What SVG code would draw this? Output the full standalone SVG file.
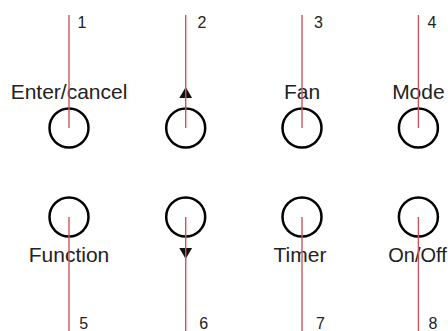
<svg xmlns="http://www.w3.org/2000/svg" width="448" height="331" viewBox="0 0 448 331">
<style>
.btn{fill:none;stroke:#000;stroke-width:2.5}
.lbl{font-family:"Liberation Sans",Arial,sans-serif;font-size:21px;fill:#222;text-anchor:middle}
.num{font-family:"Liberation Sans",Arial,sans-serif;font-size:16px;fill:#222}
.lead{stroke:#cc5660;stroke-width:1.4;fill:none}
.tri{fill:#111}
</style>
<rect width="448" height="331" fill="#fff"/>
<g id="btn1"><circle class="btn" cx="69" cy="128" r="19.5"/><text class="lbl" x="69" y="99">Enter/cancel</text><text class="num" x="77.6" y="28">1</text></g>
<g id="btn2"><circle class="btn" cx="185.7" cy="128" r="19.5"/><polygon class="tri" points="185.7,87 179.3,98 192.1,98"/><text class="num" x="197.5" y="28">2</text></g>
<g id="btn3"><circle class="btn" cx="302" cy="128" r="19.5"/><text class="lbl" x="302" y="99">Fan</text><text class="num" x="314" y="28">3</text></g>
<g id="btn4"><circle class="btn" cx="418.4" cy="128" r="19.5"/><text class="lbl" x="418.4" y="99">Mode</text><text class="num" x="427.5" y="28">4</text></g>
<g id="btn5"><circle class="btn" cx="69" cy="217" r="19.5"/><text class="lbl" x="69" y="262">Function</text><text class="num" x="79.3" y="329">5</text></g>
<g id="btn6"><circle class="btn" cx="185.7" cy="217" r="19.5"/><polygon class="tri" points="179.3,248 192.1,248 185.7,259"/><text class="num" x="199.3" y="329">6</text></g>
<g id="btn7"><circle class="btn" cx="302" cy="217" r="19.5"/><text class="lbl" x="300" y="262">Timer</text><text class="num" x="316" y="329">7</text></g>
<g id="btn8"><circle class="btn" cx="418.4" cy="217" r="19.5"/><text class="lbl" x="417.5" y="262" style="font-size:20px">On/Off</text><text class="num" x="428.6" y="329">8</text></g>
<g id="connectors">
<line class="lead" x1="69" y1="15" x2="69" y2="128"/>
<line class="lead" x1="185.7" y1="15" x2="185.7" y2="128"/>
<line class="lead" x1="302" y1="15" x2="302" y2="128"/>
<line class="lead" x1="418.4" y1="15" x2="418.4" y2="128"/>
<line class="lead" x1="69" y1="217" x2="69" y2="331"/>
<line class="lead" x1="185.7" y1="217" x2="185.7" y2="331"/>
<line class="lead" x1="302" y1="217" x2="302" y2="331"/>
<line class="lead" x1="418.4" y1="217" x2="418.4" y2="331"/>
</g>
</svg>
